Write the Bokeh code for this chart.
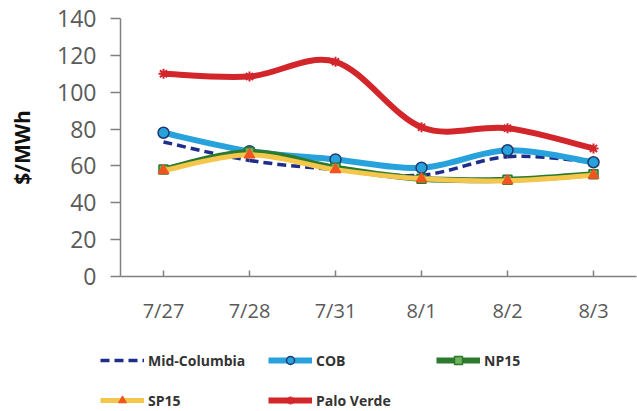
from bokeh.plotting import figure
from bokeh.models import FixedTicker, Legend, LegendItem, ColumnDataSource, LinearAxis
from bokeh.embed import file_html
from bokeh.resources import INLINE

dates = ["7/27", "7/28", "7/31", "8/1", "8/2", "8/3"]
mid_columbia = [73, 63, 58, 55, 65, 62]
cob = [78, 68, 63.5, 59, 68.5, 62]
np15 = [58, 67.5, 59, 53, 52.5, 55.5]
sp15 = [57.5, 66, 58, 53, 52, 55]
palo_verde = [110, 108.5, 116.5, 81, 80.5, 69.5]
y_ticks = [0, 20, 40, 60, 80, 100, 120, 140]

# layout (pixels) of the plotting area inside the 637x411 canvas
W, H = 637, 411
AX_L, AX_R, AX_T, AX_B = 120, 636, 18, 276
Y_MIN, Y_MAX = 0, 140
n = len(dates)
xs_per_px = n / (AX_R - AX_L)
ys_per_px = (Y_MAX - Y_MIN) / (AX_B - AX_T)
x_start = -0.5 - AX_L * xs_per_px
x_end = n - 0.5 + (W - AX_R) * xs_per_px
y_end = Y_MAX + AX_T * ys_per_px
y_start = Y_MIN - (H - AX_B) * ys_per_px

p = figure(width=W, height=H, output_backend="svg", toolbar_location=None,
           x_range=(x_start, x_end), y_range=(y_start, y_end),
           x_axis_location=None, y_axis_location=None,
           min_border_left=0, min_border_right=0, min_border_top=0, min_border_bottom=0)
p.grid.visible = False
p.outline_line_color = None

AX = "#808080"
LBL = "#5a5a5a"
xaxis = LinearAxis(fixed_location=Y_MIN, bounds=(-0.5, n - 0.5))
xaxis.ticker = FixedTicker(ticks=list(range(n)))
xaxis.major_label_overrides = {i: d for i, d in enumerate(dates)}
xaxis.major_tick_in = 6
xaxis.major_tick_out = 0
xaxis.minor_tick_line_color = None
xaxis.major_label_standoff = 20
xaxis.major_label_text_font = "Open Sans"
xaxis.major_label_text_font_size = "20px"
xaxis.major_label_text_color = LBL

yaxis = LinearAxis(fixed_location=-0.5, bounds=(Y_MIN, Y_MAX))
yaxis.ticker = FixedTicker(ticks=y_ticks)
yaxis.major_tick_in = 0
yaxis.major_tick_out = 10
yaxis.minor_tick_line_color = None
yaxis.major_label_standoff = 14
yaxis.major_label_text_font = "Open Sans"
yaxis.major_label_text_font_size = "23px"
yaxis.major_label_text_color = LBL
yaxis.axis_label = "$/MWh"
yaxis.axis_label_text_font = "Open Sans"
yaxis.axis_label_text_font_style = "bold"
yaxis.axis_label_text_font_size = "21px"
yaxis.axis_label_text_color = "#111111"
yaxis.axis_label_standoff = 18
for ax in (xaxis, yaxis):
    ax.axis_line_color = AX
    ax.axis_line_width = 1.5
    ax.major_tick_line_color = AX
    ax.major_tick_line_width = 1.5
p.add_layout(xaxis, "below")
p.add_layout(yaxis, "left")


def smooth_source(ys):
    xs = list(range(len(ys)))
    m = len(ys)
    d = dict(x0=[], y0=[], x1=[], y1=[], cx0=[], cy0=[], cx1=[], cy1=[])
    for i in range(m - 1):
        pm = max(i - 1, 0)
        pp = min(i + 2, m - 1)
        d["x0"].append(xs[i]); d["y0"].append(ys[i])
        d["x1"].append(xs[i + 1]); d["y1"].append(ys[i + 1])
        d["cx0"].append(xs[i] + (xs[i + 1] - xs[pm]) / 6)
        d["cy0"].append(ys[i] + (ys[i + 1] - ys[pm]) / 6)
        d["cx1"].append(xs[i + 1] - (xs[pp] - xs[i]) / 6)
        d["cy1"].append(ys[i + 1] - (ys[pp] - ys[i]) / 6)
    return ColumnDataSource(d)


BZ = dict(x0="x0", y0="y0", x1="x1", y1="y1", cx0="cx0", cy0="cy0", cx1="cx1", cy1="cy1")
xs = list(range(n))
it = {}

r = p.bezier(**BZ, source=smooth_source(mid_columbia), line_color="#1f2d8a", line_width=3.5, line_dash="9 5")
it["Mid-Columbia"] = [r]

r1 = p.bezier(**BZ, source=smooth_source(cob), line_color="#27a2dc", line_width=6)
r2 = p.scatter(xs, cob, marker="circle", size=11, fill_color="#27a2dc", line_color="#1f3a6e", line_width=1.5)
it["COB"] = [r1, r2]

r1 = p.bezier(**BZ, source=smooth_source(np15), line_color="#2c7a2e", line_width=6)
r2 = p.scatter(xs, np15, marker="square", size=9, fill_color="#6fb35a", line_color="#2c7a2e", line_width=1.5)
it["NP15"] = [r1, r2]

r1 = p.bezier(**BZ, source=smooth_source(sp15), line_color="#f4c74c", line_width=5)
r2 = p.scatter(xs, sp15, marker="triangle", size=11, fill_color="#f2541f", line_color="#f2541f")
it["SP15"] = [r1, r2]

r1 = p.bezier(**BZ, source=smooth_source(palo_verde), line_color="#d2262b", line_width=6)
r2 = p.scatter(xs, palo_verde, marker="asterisk", size=10, line_color="#d2262b", line_width=2)
it["Palo Verde"] = [r1, r2]

# column-major order so rows read: Mid-Columbia, COB, NP15 / SP15, Palo Verde
order = ["Mid-Columbia", "SP15", "COB", "Palo Verde", "NP15"]
items = [LegendItem(label=k, renderers=it[k]) for k in order]

legend = Legend(items=items, ncols=3, location=(100, 1),
                glyph_width=44, glyph_height=20, label_width=100, label_height=20,
                label_standoff=4, spacing=20, padding=0, margin=0,
                border_line_alpha=0, background_fill_alpha=0,
                label_text_font="Open Sans", label_text_font_style="bold",
                label_text_font_size="14px", label_text_color="#333333")
p.add_layout(legend, "center")

open("out.html", "w").write(file_html(p, INLINE))
